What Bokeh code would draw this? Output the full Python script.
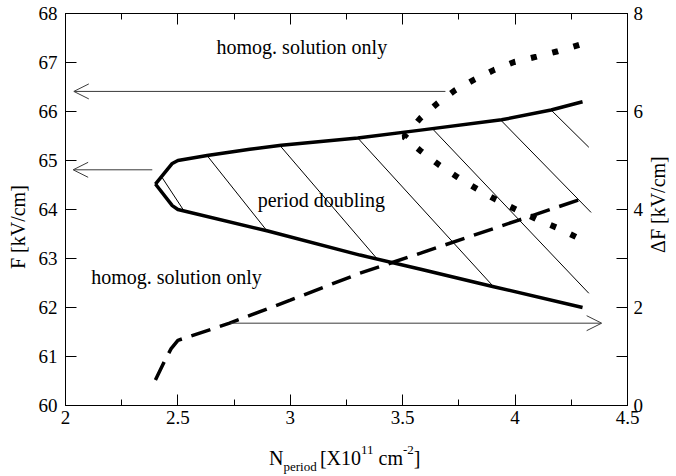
import math
from bokeh.plotting import figure
from bokeh.layouts import column
from bokeh.models import (Range1d, LinearAxis, FixedTicker, Label, Arrow, OpenHead,
                          ColumnDataSource, Div)
from bokeh.core.properties import value
from bokeh.embed import file_html
from bokeh.resources import INLINE

FONT = "Liberation Serif"

# ---- data ----
# upper boundary of period-doubling region (F, kV/cm)
up_x = [2.40, 2.475, 2.50, 2.63, 2.82, 2.96, 3.30, 3.58, 3.94, 4.16, 4.30]
up_y = [64.52, 64.94, 65.00, 65.10, 65.23, 65.31, 65.46, 65.62, 65.83, 66.03, 66.20]
# lower boundary
lo_x = [2.40, 2.475, 2.50, 2.90, 3.31, 3.58, 3.90, 4.30]
lo_y = [64.52, 64.08, 64.00, 63.56, 63.07, 62.78, 62.43, 62.00]
# hatch lines inside the region
h_x0 = [2.43, 2.63, 2.953, 3.30, 3.636, 3.935, 4.16]
h_y0 = [64.65, 65.10, 65.31, 65.46, 65.63, 65.83, 66.03]
h_x1 = [2.526, 2.897, 3.383, 3.903, 4.328, 4.338, 4.328]
h_y1 = [63.98, 63.56, 63.01, 62.43, 62.29, 63.94, 65.27]
# dotted curve (F, kV/cm)
dot_x = [4.285, 4.19, 4.096, 3.996, 3.907, 3.818, 3.732, 3.655, 3.578, 3.506,
         3.584, 3.662, 3.744, 3.83, 3.915, 4.004, 4.096, 4.19, 4.275]
dot_y = [67.36, 67.23, 67.12, 67.01, 66.85, 66.65, 66.43, 66.17, 65.86, 65.48,
         65.18, 64.91, 64.66, 64.42, 64.20, 64.00, 63.80, 63.62, 63.43]
# dashed curve: Delta F (kV/cm), right axis
dash_x = [2.40, 2.44, 2.47, 2.50, 2.73, 3.00, 3.31, 3.58, 4.02, 4.30]
dash_y = [0.52, 0.90, 1.16, 1.33, 1.68, 2.15, 2.70, 3.11, 3.79, 4.22]
# arrows
arr_x0 = [3.69, 2.386, 2.734]
arr_x1 = [2.037, 2.034, 4.385]
arr_y = [66.41, 64.81, 61.68]
# region texts
txt = ["homog. solution only", "period doubling", "homog. solution only"]
txt_x = [2.672, 2.855, 2.114]
txt_y = [67.312, 64.198, 62.618]
# ticks
x_ticks = [2.0, 2.5, 3.0, 3.5, 4.0, 4.5]
x_tick_labels = ["2", "2.5", "3", "3.5", "4", "4.5"]
x_minor = [2.25, 2.75, 3.25, 3.75, 4.25]
yl_ticks = [60, 61, 62, 63, 64, 65, 66, 67, 68]
yr_ticks = [0, 2, 4, 6, 8]
yr_minor = [1, 3, 5, 7]
# axis titles
yl_title = "F [kV/cm]"
yr_title = "\u0394F [kV/cm]"
x_title = ("N", "period", "[X10", "11", "cm", "-2", "]")

p = figure(width=676, height=440, x_range=Range1d(2, 4.5), y_range=Range1d(60, 68),
           output_backend="svg", toolbar_location=None,
           x_axis_location=None, y_axis_location=None,
           min_border_left=65, min_border_right=49, min_border_top=13, min_border_bottom=35)
p.extra_y_ranges = {"dF": Range1d(0, 8)}
p.grid.visible = False
p.outline_line_color = "black"
p.outline_line_width = 1
p.background_fill_color = "white"
p.border_fill_color = "white"

def style(ax, size="19px"):
    ax.major_tick_out = 0
    ax.minor_tick_out = 0
    ax.axis_line_color = "black"
    ax.major_tick_line_color = "black"
    ax.minor_tick_line_color = "black"
    ax.major_label_text_font = FONT
    ax.major_label_text_font_size = size
    ax.major_label_text_color = "black"

left = LinearAxis(ticker=FixedTicker(ticks=yl_ticks, minor_ticks=[]), major_tick_in=11,
                  minor_tick_in=0, major_label_standoff=8)
style(left)
p.add_layout(left, "left")

right = LinearAxis(y_range_name="dF", ticker=FixedTicker(ticks=yr_ticks, minor_ticks=yr_minor),
                   major_tick_in=11, minor_tick_in=11, major_label_standoff=6)
style(right)
p.add_layout(right, "right")

overrides = {t: l for t, l in zip(x_ticks, x_tick_labels)}
bottom = LinearAxis(ticker=FixedTicker(ticks=x_ticks, minor_ticks=x_minor), major_tick_in=11,
                    minor_tick_in=6, major_label_standoff=5, major_label_overrides=overrides)
style(bottom)
p.add_layout(bottom, "below")

top = LinearAxis(ticker=FixedTicker(ticks=x_ticks, minor_ticks=x_minor), major_tick_in=11,
                 minor_tick_in=6, major_label_standoff=0,
                 major_label_overrides={t: "" for t in x_ticks})
style(top, size="0px")
p.add_layout(top, "above")

# region boundaries
p.line(up_x, up_y, line_color="black", line_width=3.5, line_join="round")
p.line(lo_x, lo_y, line_color="black", line_width=3.5, line_join="round")
p.segment(x0=h_x0, y0=h_y0, x1=h_x1, y1=h_y1, line_color="black", line_width=1)
# dotted curve
p.line(dot_x, dot_y, line_color="black", line_width=6, line_dash="6 16")
# dashed curve on right axis
p.line(dash_x, dash_y, y_range_name="dF", line_color="black", line_width=3.5, line_dash="20 10")

for x0, x1, y in zip(arr_x0, arr_x1, arr_y):
    p.add_layout(Arrow(end=OpenHead(size=15, line_width=1, line_color="#3a3a3a"),
                       x_start=x0, y_start=y, x_end=x1, y_end=y,
                       line_color="#3a3a3a", line_width=1))

src = ColumnDataSource(dict(x=txt_x, y=txt_y, t=txt))
p.text(x="x", y="y", text="t", source=src, text_font=value(FONT), text_font_size="20px",
       text_color="black", text_align="left", text_baseline="alphabetic")

# vertical axis titles (one label per side panel)
p.add_layout(Label(x=1.7887, y=63.64, text=yl_title, text_font=FONT, text_font_size="20px",
                   angle=math.pi / 2, text_align="center", text_baseline="middle",
                   text_color="black"), "left")
p.add_layout(Label(x=4.6335, y=64.10, text=yr_title, text_font=FONT, text_font_size="20px",
                   angle=math.pi / 2, text_align="center", text_baseline="middle",
                   text_color="black"), "right")

# x axis title with subscript / superscripts
n, sub, a, sup1, b, sup2, c = x_title
html = (
    f'<div style="font-family:\'{FONT}\';font-size:20px;line-height:20px;color:black;'
    f'white-space:nowrap;padding-left:264px;padding-top:3px;">'
    f'{n}<span style="font-size:13px;position:relative;top:6px;">{sub} </span>{a}'
    f'<span style="font-size:13px;position:relative;top:-11px;">{sup1}</span> {b}'
    f'<span style="font-size:13px;position:relative;top:-11px;">{sup2}</span>{c}</div>'
)
xlab = Div(text=html, width=676, height=36)

layout = column(p, xlab, spacing=0)
open("out.html", "w").write(file_html(layout, INLINE))
